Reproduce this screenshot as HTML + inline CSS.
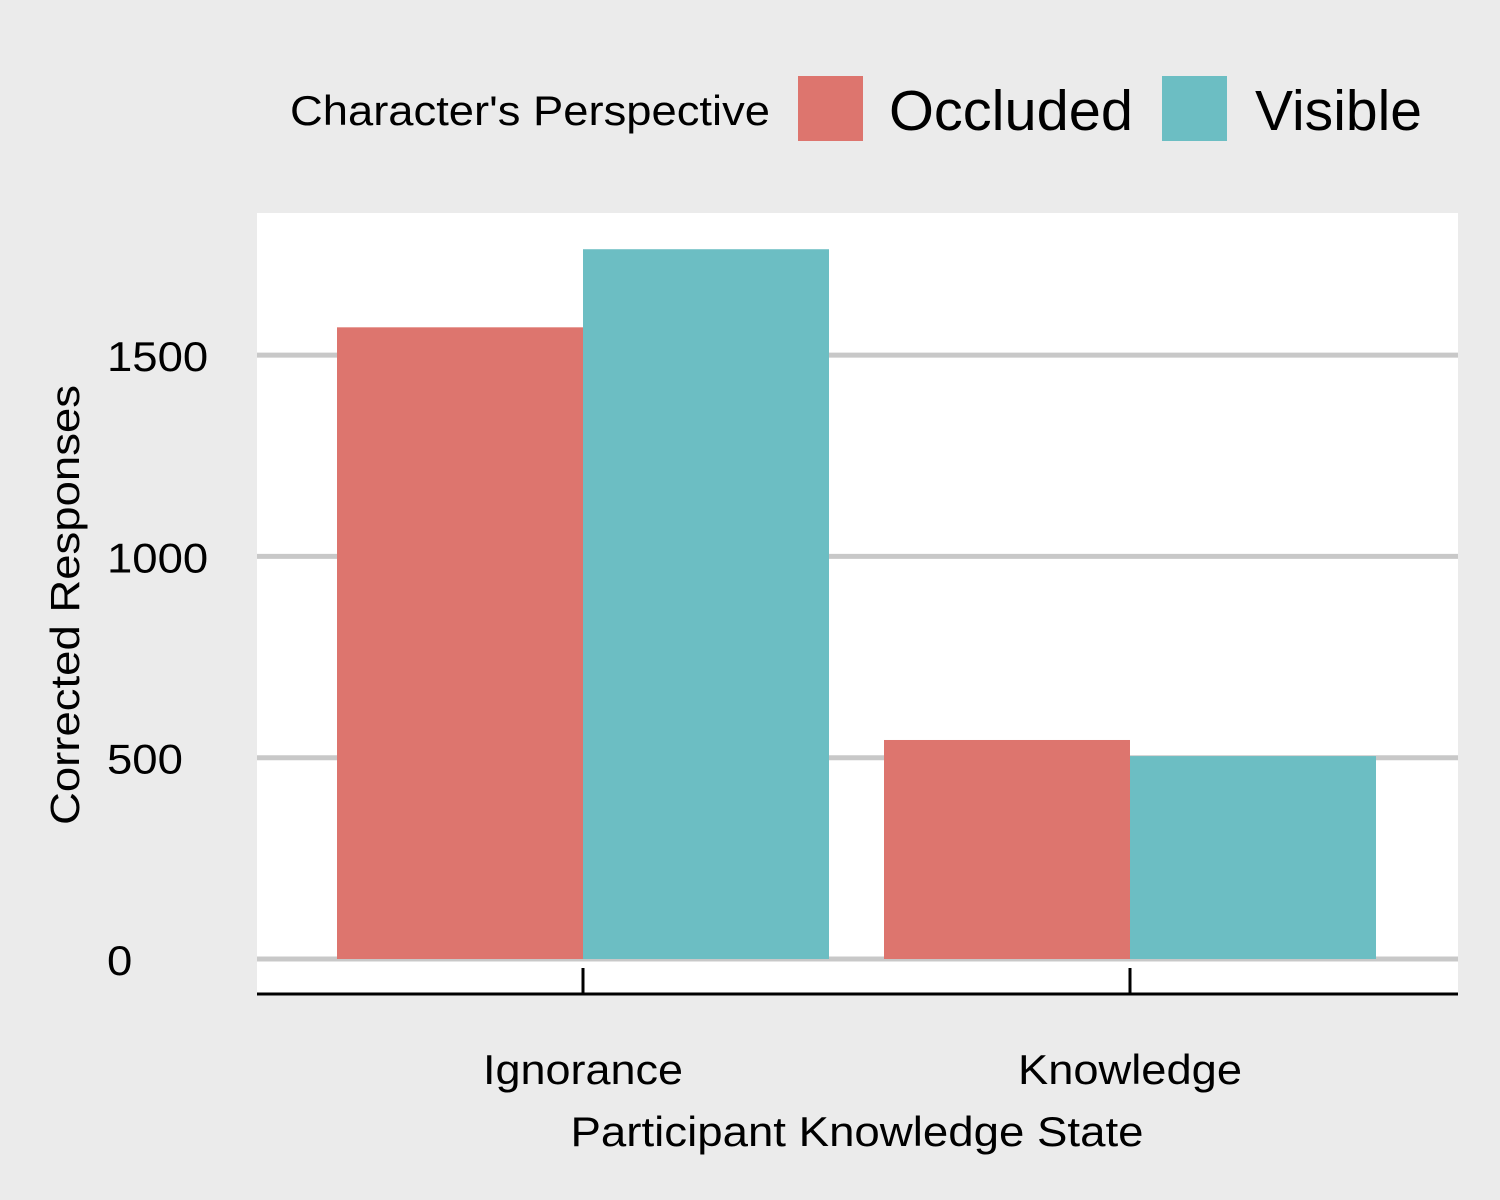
<!DOCTYPE html>
<html><head><meta charset="utf-8"><style>
html,body{margin:0;padding:0;background:#ebebeb;}
svg{display:block;font-family:"Liberation Sans",Arial,sans-serif;}
</style></head><body>
<svg id="chart" width="1500" height="1200" viewBox="0 0 1500 1200">
<rect x="0" y="0" width="1500" height="1200" fill="#ebebeb"/>
<rect x="257" y="213" width="1201" height="781" fill="#ffffff"/>
<g id="grid"></g>
<g id="bars"></g>
<line x1="257" y1="994" x2="1458" y2="994" stroke="#000" stroke-width="3"/>
<g id="xaxis"></g>
<g id="yaxis"></g>
<text x="79" y="605" font-size="41" text-anchor="middle" textLength="440" lengthAdjust="spacingAndGlyphs" transform="rotate(-90 79 605)">Corrected Responses</text>
<text x="857" y="1146" font-size="42" text-anchor="middle" textLength="573" lengthAdjust="spacingAndGlyphs">Participant Knowledge State</text>
<g>
<text x="290" y="125" font-size="42" textLength="480" lengthAdjust="spacingAndGlyphs">Character's Perspective</text>
<rect x="798" y="76" width="65" height="65" fill="#dd756e"/>
<text x="889" y="130" font-size="57" textLength="244" lengthAdjust="spacingAndGlyphs">Occluded</text>
<rect x="1162" y="76" width="65" height="65" fill="#6cbec3"/>
<text x="1255" y="130" font-size="57" textLength="167" lengthAdjust="spacingAndGlyphs">Visible</text>
</g>
</svg>
<script>
const categories = ["Ignorance", "Knowledge"];
const occluded = [1569, 544];
const visible = [1763, 504];
const yTicks = [0, 500, 1000, 1500];
const yTickLabels = ["0", "500", "1000", "1500"];

const NS = "http://www.w3.org/2000/svg";
const y0 = 959, pxPerUnit = 201.3 / 500;
function yScale(v){ return y0 - v * pxPerUnit; }
const xStart = 583, xStep = 547;
function xScale(i){ return xStart + i * xStep; }
const barW = 246;

const grid = document.getElementById("grid");
const yaxis = document.getElementById("yaxis");
yTicks.forEach((t, i) => {
  const l = document.createElementNS(NS, "line");
  l.setAttribute("x1", 257); l.setAttribute("x2", 1458);
  l.setAttribute("y1", yScale(t)); l.setAttribute("y2", yScale(t));
  l.setAttribute("stroke", "#c8c8c8"); l.setAttribute("stroke-width", 5);
  
  
  grid.appendChild(l);
  const tx = document.createElementNS(NS, "text");
  tx.setAttribute("x", 107); tx.setAttribute("y", yScale(t) + 16);
  tx.setAttribute("font-size", 42);
  tx.setAttribute("textLength", yTickLabels[i].length * 25.3);
  tx.setAttribute("lengthAdjust", "spacingAndGlyphs");
  tx.textContent = yTickLabels[i];
  
  
  yaxis.appendChild(tx);
});

const bars = document.getElementById("bars");
function addBar(x, v, color){
  const r = document.createElementNS(NS, "rect");
  r.setAttribute("x", x); r.setAttribute("width", barW);
  r.setAttribute("y", yScale(v)); r.setAttribute("height", y0 - yScale(v));
  r.setAttribute("fill", color);
  
  
  bars.appendChild(r);
}
const xLabelLens = [200, 224];
const xaxis = document.getElementById("xaxis");
categories.forEach((c, i) => {
  const cx = xScale(i);
  addBar(cx - barW, occluded[i], "#dd756e");
  addBar(cx, visible[i], "#6cbec3");
  const tk = document.createElementNS(NS, "line");
  tk.setAttribute("x1", cx); tk.setAttribute("x2", cx);
  tk.setAttribute("y1", 968); tk.setAttribute("y2", 994);
  tk.setAttribute("stroke", "#000"); tk.setAttribute("stroke-width", 3);
  
  
  xaxis.appendChild(tk);
  const t = document.createElementNS(NS, "text");
  t.setAttribute("x", cx); t.setAttribute("y", 1084);
  t.setAttribute("font-size", 42); t.setAttribute("text-anchor", "middle");
  t.setAttribute("textLength", xLabelLens[i]);
  t.setAttribute("lengthAdjust", "spacingAndGlyphs");
  t.textContent = c;
  
  
  xaxis.appendChild(t);
});
</script>
</body></html>
